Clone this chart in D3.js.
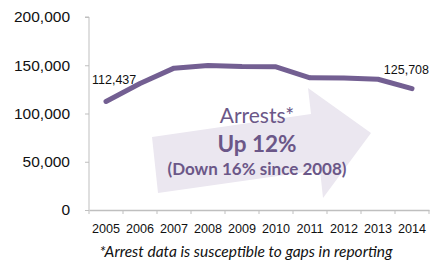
<!DOCTYPE html>
<html>
<head>
<meta charset="utf-8">
<script src="https://cdn.jsdelivr.net/npm/d3@7"></script>
<style>
  body { margin: 0; background: #fff; }
  svg { display: block; }
</style>
</head>
<body>
<svg id="grafico" width="432" height="262"></svg>
<script>
const anos = ["2005", "2006", "2007", "2008", "2009", "2010", "2011", "2012", "2013", "2014"];
const prisoes = [112437, 131000, 147000, 149700, 148600, 148400, 137000, 136800, 135500, 125708];
const ticks_y = [0, 50000, 100000, 150000, 200000];
const rotulos_ponta = ["112,437", "125,708"];
const textos_seta = ["Arrests*", "Up 12%", "(Down 16% since 2008)"];
const nota = "*Arrest data is susceptible to gaps in reporting";

const largura = 432, altura = 262;
const margem = { top: 17, right: 3, bottom: 52, left: 89 };
const roxo = "#735f92";
const roxo_texto = "#6b5788";
const cinza = "#bfbfbf";

const svg = d3.select("#grafico");

const x = d3.scaleBand().domain(anos).range([margem.left, largura - margem.right]).padding(0);
const y = d3.scaleLinear().domain([0, 200000]).range([altura - margem.bottom, margem.top]);

// seta de fundo (enfeite)
const seta = [[152, 137], [311, 114], [308, 88], [371, 133], [323, 198], [320, 170], [158, 193]];
svg.append("path")
  .attr("d", d3.line()(seta) + "Z")
  .attr("fill", "#ebe7f0");

// eixo y
const eixo_y = svg.append("g")
  .attr("transform", `translate(${margem.left},0)`)
  .call(d3.axisLeft(y).tickValues(ticks_y).tickSize(4).tickFormat(d3.format(",")));
eixo_y.select(".domain").attr("stroke", cinza).attr("d", `M-4,${y(200000)}H0V${y(0)}`);
eixo_y.selectAll(".tick line").attr("stroke", cinza);
eixo_y.selectAll(".tick text")
  .attr("x", -19)
  .attr("fill", "#111")
  .style("font-family", "'Liberation Sans', Arial, sans-serif")
  .style("font-size", "15.5px");

// eixo x
const eixo_x = svg.append("g")
  .attr("transform", `translate(0,${y(0)})`)
  .call(d3.axisBottom(x).tickSize(0).tickPadding(14));
eixo_x.select(".domain").attr("stroke", cinza).attr("stroke-width", 1.5);
eixo_x.selectAll(".tick text")
  .attr("fill", "#111")
  .style("font-family", "'Liberation Sans', Arial, sans-serif")
  .style("font-size", "12.6px");
eixo_x.selectAll(".divisor")
  .data(anos.concat(["fim"]))
  .enter()
  .append("line")
  .attr("x1", (d, i) => margem.left + i * x.bandwidth())
  .attr("x2", (d, i) => margem.left + i * x.bandwidth())
  .attr("y1", 0)
  .attr("y2", 4)
  .attr("stroke", cinza);

// linha
const linha = d3.line()
  .x((d, i) => x(anos[i]) + x.bandwidth() / 2)
  .y(d => y(d));
svg.append("path")
  .datum(prisoes)
  .attr("d", linha)
  .attr("fill", "none")
  .attr("stroke", roxo)
  .attr("stroke-width", 5)
  .attr("stroke-linejoin", "round")
  .attr("stroke-linecap", "round");

// rotulos das pontas
svg.append("text")
  .attr("x", x(anos[0]) + 3)
  .attr("y", y(prisoes[0]) - 17)
  .text(rotulos_ponta[0])
  .style("font-family", "'Liberation Sans', Arial, sans-serif")
  .style("font-size", "12.5px")
  .attr("fill", "#111");
svg.append("text")
  .attr("x", largura - 3)
  .attr("y", y(prisoes[9]) - 15)
  .attr("text-anchor", "end")
  .text(rotulos_ponta[1])
  .style("font-family", "'Liberation Sans', Arial, sans-serif")
  .style("font-size", "12.5px")
  .attr("fill", "#111");

// textos da seta
const estilos = [
  { y: 123, size: 21, weight: 400 },
  { y: 152, size: 22.5, weight: 700 },
  { y: 175, size: 17, weight: 700 }
];
svg.selectAll(".texto_seta")
  .data(textos_seta)
  .enter()
  .append("text")
  .attr("class", "texto_seta")
  .attr("x", 257)
  .attr("y", (d, i) => estilos[i].y)
  .attr("text-anchor", "middle")
  .attr("fill", roxo_texto)
  .style("font-family", "Lato, 'Open Sans', sans-serif")
  .style("font-size", (d, i) => estilos[i].size + "px")
  .style("font-weight", (d, i) => estilos[i].weight)
  .text(d => d);

// nota de rodape
svg.append("text")
  .attr("x", 246)
  .attr("y", 257)
  .attr("text-anchor", "middle")
  .attr("fill", "#111")
  .style("font-family", "Lato, 'Open Sans', sans-serif")
  .style("font-style", "italic")
  .style("font-size", "15.5px")
  .text(nota);
</script>
</body>
</html>
